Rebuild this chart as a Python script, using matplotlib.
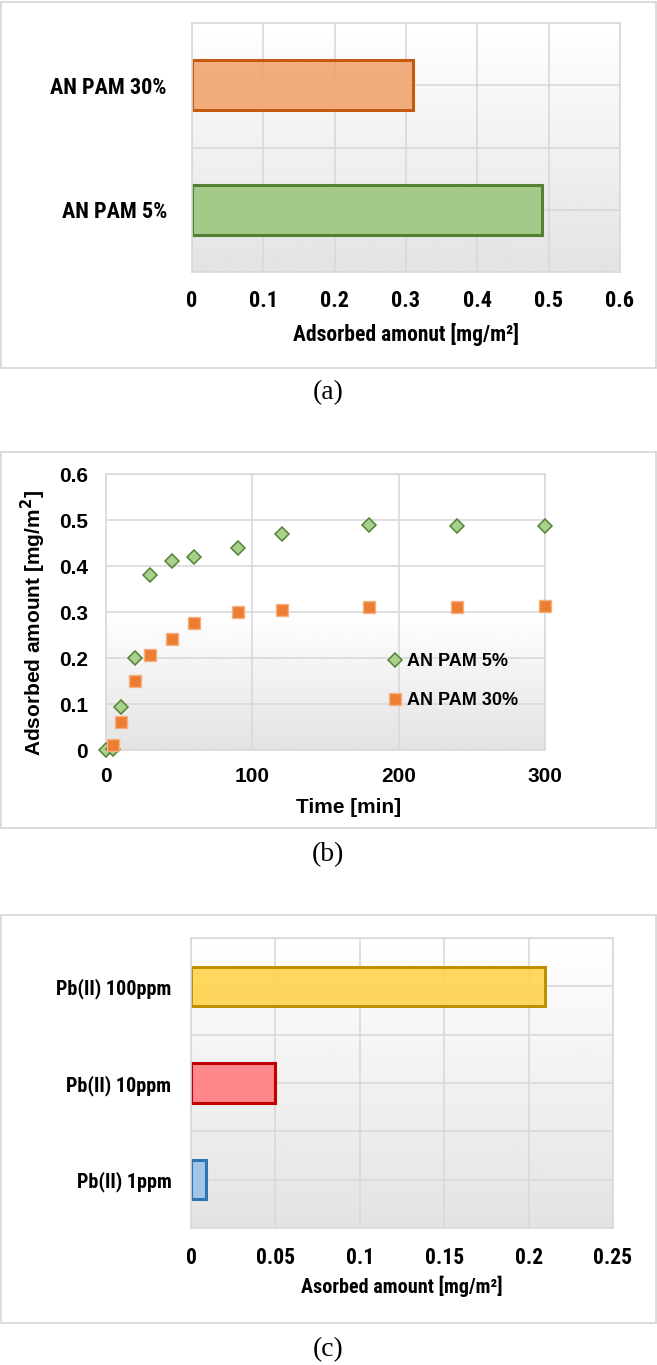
import numpy as np
import matplotlib
matplotlib.use('Agg')
import matplotlib.pyplot as plt
from matplotlib.patches import Rectangle
from matplotlib.colors import to_rgba

# data (a)
a_labels = ['AN PAM 5%', 'AN PAM 30%']
a_values = [0.49, 0.31]
a_face = ['#9DC77F', '#F2A46F']
a_edge = ['#548235', '#C55A11']

# data (b)
time_5 = [0, 5, 10, 20, 30, 45, 60, 90, 120, 180, 240, 300]
pam_5 = [0, 0.003, 0.093, 0.20, 0.38, 0.41, 0.42, 0.44, 0.47, 0.49, 0.487, 0.487]
time_30 = [5, 10, 20, 30, 45, 60, 90, 120, 180, 240, 300]
pam_30 = [0.011, 0.06, 0.15, 0.207, 0.241, 0.277, 0.299, 0.305, 0.31, 0.31, 0.312]

# data (c)
c_labels = ['Pb(II) 1ppm', 'Pb(II) 10ppm', 'Pb(II) 100ppm']
c_values = [0.009, 0.05, 0.21]
c_face = ['#9DC3E6', '#FF7C80', '#FFD34D']
c_edge = ['#2E75B6', '#C00000', '#BF9000']

W, H = 657, 1365
NARROW = ['Roboto Condensed', 'Liberation Sans Narrow', 'Roboto', 'DejaVu Sans']
ARIAL = ['Liberation Sans', 'DejaVu Sans']
SERIF = ['Liberation Serif', 'DejaVu Serif']
GRID = '#D9D9D9'

fig = plt.figure(figsize=(W / 100, H / 100), dpi=100)


def px_axes(x0, y0, x1, y1):
    return fig.add_axes([x0 / W, 1 - y1 / H, (x1 - x0) / W, (y1 - y0) / H])


def box(y0, y1):
    fig.patches.append(Rectangle((1 / W, 1 - y1 / H), (W - 2) / W, (y1 - y0) / H,
                                 transform=fig.transFigure, fill=False,
                                 ec=GRID, lw=1.3))


def gradient(ax, start=0.0):
    # white at top, light grey at bottom
    t = np.linspace(0, 1, 200)
    g = np.where(t < start, 0, (t - start) / (1 - start))
    vals = 1 - 0.11 * g
    ax.imshow(vals.reshape(-1, 1), cmap='gray', vmin=0, vmax=1,
              extent=[0, 1, 0, 1], transform=ax.transAxes, aspect='auto',
              zorder=0, interpolation='bilinear')


def style(ax):
    ax.set_axisbelow(True)
    ax.grid(True, color=GRID, lw=1.2)
    for s in ax.spines.values():
        s.set_color(GRID)
        s.set_linewidth(1.2)
    ax.tick_params(length=0)


# ---------- (a) ----------
box(2, 368)
ax1 = px_axes(192, 23, 620, 272)
gradient(ax1)
style(ax1)
ypos = np.arange(len(a_labels))
ax1.barh(ypos, a_values, height=0.4,
         color=[to_rgba(c, 0.9) for c in a_face], edgecolor=a_edge, lw=2.2, zorder=2)
ax1.set_xlim(0, 0.6)
ax1.set_ylim(-0.5, 1.5)
ax1.set_xticks([0, 0.1, 0.2, 0.3, 0.4, 0.5, 0.6])
ax1.set_xticklabels(['0', '0.1', '0.2', '0.3', '0.4', '0.5', '0.6'])
ax1.set_yticks([-0.5, 0, 0.5, 1, 1.5])
ax1.set_yticklabels(['', a_labels[0], '', a_labels[1], ''])
ax1.tick_params(axis='x', pad=13)
ax1.tick_params(axis='y', pad=18)
for lab in ax1.get_xticklabels() + ax1.get_yticklabels():
    lab.set_family(NARROW)
    lab.set_fontweight('bold')
    lab.set_fontsize(16)
ax1.set_xlabel('Adsorbed amonut [mg/m²]', family=NARROW, fontweight='bold',
               fontsize=15.5, va='center')
ax1.xaxis.set_label_coords(0.5, -0.253)
fig.text(328 / W, 1 - 393 / H, '(a)', family=SERIF, fontsize=20,
         ha='center', va='center')

# ---------- (b) ----------
box(452, 828)
ax2 = px_axes(106, 474, 545, 750)
gradient(ax2, start=0.5)
style(ax2)
ax2.plot(time_5, pam_5, ls='none', marker='D', ms=7, mfc='#A9D18E', mec='#548235',
         mew=1.1, label='AN PAM 5%', clip_on=False, zorder=3)
ax2.plot(time_30, pam_30, ls='none', marker='s', ms=8.5, mfc='#ED7D31', mec='#F4B183',
         mew=1.0, label='AN PAM 30%', clip_on=False, zorder=4)
ax2.set_xlim(0, 300)
ax2.set_ylim(0, 0.6)
ax2.set_xticks([0, 100, 200, 300])
ax2.set_yticks([0, 0.1, 0.2, 0.3, 0.4, 0.5, 0.6])
ax2.set_yticklabels(['0', '0.1', '0.2', '0.3', '0.4', '0.5', '0.6'])
ax2.tick_params(axis='x', pad=12)
ax2.tick_params(axis='y', pad=13)
for lab in ax2.get_xticklabels() + ax2.get_yticklabels():
    lab.set_family(ARIAL)
    lab.set_fontweight('bold')
    lab.set_fontsize(15)
ax2.set_xlabel('Time [min]', family=ARIAL, fontweight='bold', fontsize=15, va='center')
ax2.xaxis.set_label_coords(0.553, -0.207)
ax2.set_ylabel('Adsorbed amount [mg/m$\\mathbf{^2}$]', family=ARIAL,
               fontweight='bold', fontsize=15, va='center')
ax2.yaxis.set_label_coords(-0.165, 0.46)
leg = ax2.legend(loc='center left', bbox_to_anchor=(0.625, 0.25), frameon=False,
                 handlelength=0.6, handletextpad=0.35, labelspacing=1.2,
                 borderpad=0, prop={'family': ARIAL, 'weight': 'bold', 'size': 13})
fig.text(328 / W, 1 - 855 / H, '(b)', family=SERIF, fontsize=20,
         ha='center', va='center')

# ---------- (c) ----------
box(915, 1323)
ax3 = px_axes(191, 938, 613, 1228)
gradient(ax3)
style(ax3)
ypos = np.arange(len(c_labels))
ax3.barh(ypos, c_values, height=0.41,
         color=[to_rgba(c, 0.9) for c in c_face], edgecolor=c_edge, lw=2.2, zorder=2)
ax3.set_xlim(0, 0.25)
ax3.set_ylim(-0.5, 2.5)
ax3.set_xticks([0, 0.05, 0.1, 0.15, 0.2, 0.25])
ax3.set_xticklabels(['0', '0.05', '0.1', '0.15', '0.2', '0.25'])
ax3.set_yticks([-0.5, 0, 0.5, 1, 1.5, 2, 2.5])
ax3.set_yticklabels(['', c_labels[0], '', c_labels[1], '', c_labels[2], ''])
ax3.tick_params(axis='x', pad=14)
ax3.tick_params(axis='y', pad=14)
for lab in ax3.get_yticklabels():
    lab.set_family(NARROW)
    lab.set_fontweight('bold')
    lab.set_fontsize(14.5)
for lab in ax3.get_xticklabels():
    lab.set_family(NARROW)
    lab.set_fontweight('bold')
    lab.set_fontsize(15.5)
ax3.set_xlabel('Asorbed amount [mg/m²]', family=NARROW, fontweight='bold',
               fontsize=14.5, va='center')
ax3.xaxis.set_label_coords(0.5, -0.2)
fig.text(328 / W, 1 - 1350 / H, '(c)', family=SERIF, fontsize=20,
         ha='center', va='center')

fig.savefig('out.png', dpi=100)
